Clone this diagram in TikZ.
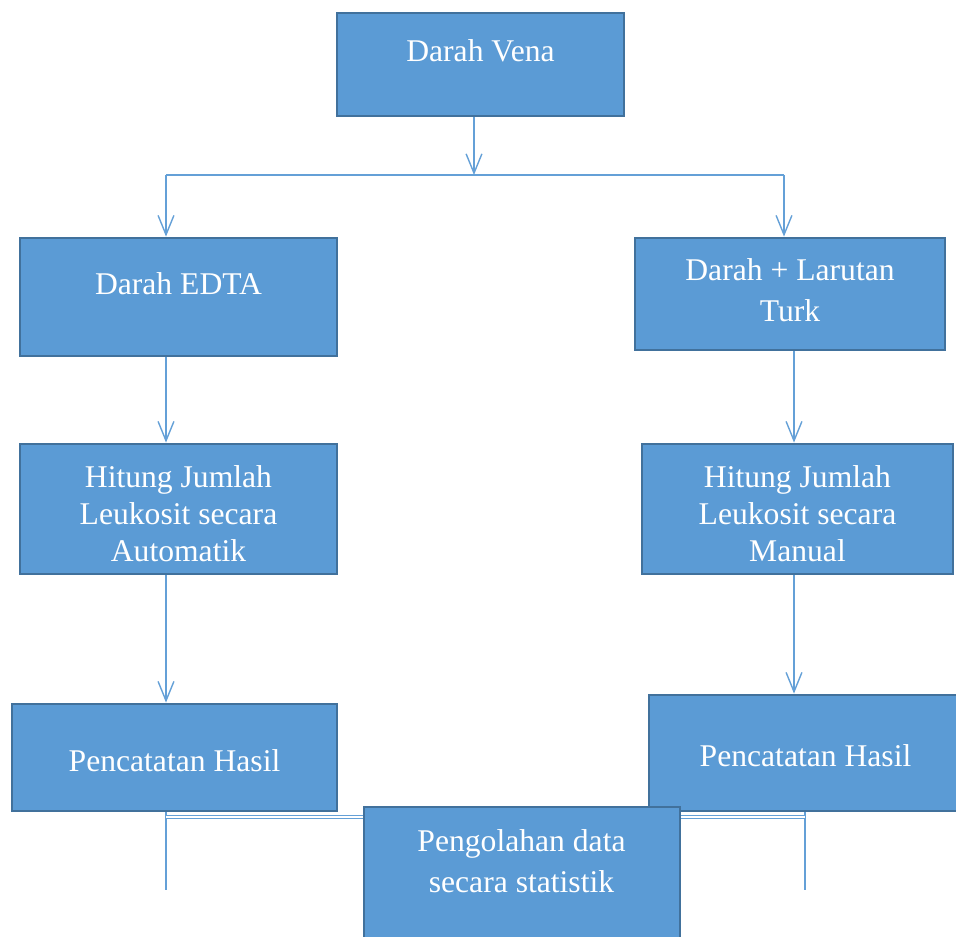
\documentclass[tikz,border=0pt]{standalone}
\usepackage{fontspec}
\setmainfont{Liberation Serif}
\usetikzlibrary{arrows.meta,positioning,calc}
\definecolor{boxblue}{RGB}{91,155,213}
\definecolor{boxedge}{RGB}{65,113,156}
\definecolor{linkblue}{RGB}{100,160,215}

\begin{document}
\begin{tikzpicture}[
  x=0.02cm, y=-0.02cm,
  stepbox/.style={draw=boxedge, line width=1.6pt, fill=boxblue, inner sep=0pt},
  lbl/.style={text=white, align=center, font=\fontsize{18}{21}\selectfont, inner sep=0pt},
  arr/.style={-{Straight Barb[length=11pt,width=9pt]}, draw=linkblue, line width=0.8pt},
  link/.style={draw=linkblue, line width=0.8pt},
  dbl/.style={draw=linkblue, line width=0.5pt, double=white, double distance=0.9pt}
]
\useasboundingbox (0,0) rectangle (956,936);
\clip (0,0) rectangle (956,936);

% boxes
\node[stepbox, minimum width=5.74cm, minimum height=2.06cm] (vena) at (480.5,64.5) {};
\node[stepbox, minimum width=6.34cm, minimum height=2.36cm] (edta) at (178.5,297) {};
\node[stepbox, minimum width=6.20cm, minimum height=2.24cm] (turk) at (790,294) {};
\node[stepbox, minimum width=6.34cm, minimum height=2.60cm] (auto) at (178.5,509) {};
\node[stepbox, minimum width=6.22cm, minimum height=2.60cm] (manual) at (797.5,509) {};
\node[stepbox, minimum width=6.50cm, minimum height=2.14cm] (hasilL) at (174.5,757.5) {};
\node[stepbox, minimum width=6.26cm, minimum height=2.32cm] (hasilR) at (805.5,753) {};

% labels
\node[lbl] (vena-t) at (480.5,51) {Darah Vena};
\node[lbl] (edta-t) at (178.5,284) {Darah EDTA};
\node[lbl, font=\fontsize{18}{23.5}\selectfont] (turk-t) at (790,290) {Darah + Larutan\\Turk};
\node[lbl] (auto-t) at (178.5,514) {Hitung Jumlah\\Leukosit secara\\Automatik};
\node[lbl] (manual-t) at (797.5,514) {Hitung Jumlah\\Leukosit secara\\Manual};
\node[lbl] (hasilL-t) at (174.5,761) {Pencatatan Hasil};
\node[lbl] (hasilR-t) at (805.5,756) {Pencatatan Hasil};

% junction points
\coordinate (split) at (474,175);
\coordinate (lsplit) at (166,175);
\coordinate (rsplit) at (784,175);
\coordinate (rcol) at (794,400);
\coordinate (ljoin) at (166,817);
\coordinate (rjoin) at (805,817);
\coordinate (lend) at (166,890);
\coordinate (rend) at (805,890);

% connectors
\draw[arr] (vena.south -| split) -- (split);
\draw[link] (lsplit) -- (rsplit);
\draw[arr] (lsplit) -- (lsplit |- edta.north);
\draw[arr] (rsplit) -- (rsplit |- turk.north);
\draw[arr] (edta.south -| lsplit) -- (auto.north -| lsplit);
\draw[arr] (auto.south -| lsplit) -- (hasilL.north -| lsplit);
\draw[arr] (turk.south -| rcol) -- (manual.north -| rcol);
\draw[arr] (manual.south -| rcol) -- (hasilR.north -| rcol);
\draw[link] (hasilL.south -| lend) -- (lend);
\draw[link] (hasilR.south -| rend) -- (rend);

% last box over the joining lines
\node[stepbox, minimum width=6.32cm, minimum height=2.76cm] (stat) at (522,876) {};
\node[lbl, font=\fontsize{18}{23.5}\selectfont] (stat-t) at (521.5,861) {Pengolahan data\\secara statistik};
\draw[dbl] (ljoin) -- (ljoin -| stat.west);
\draw[dbl] (rjoin -| stat.east) -- (rjoin);
\end{tikzpicture}
\end{document}
